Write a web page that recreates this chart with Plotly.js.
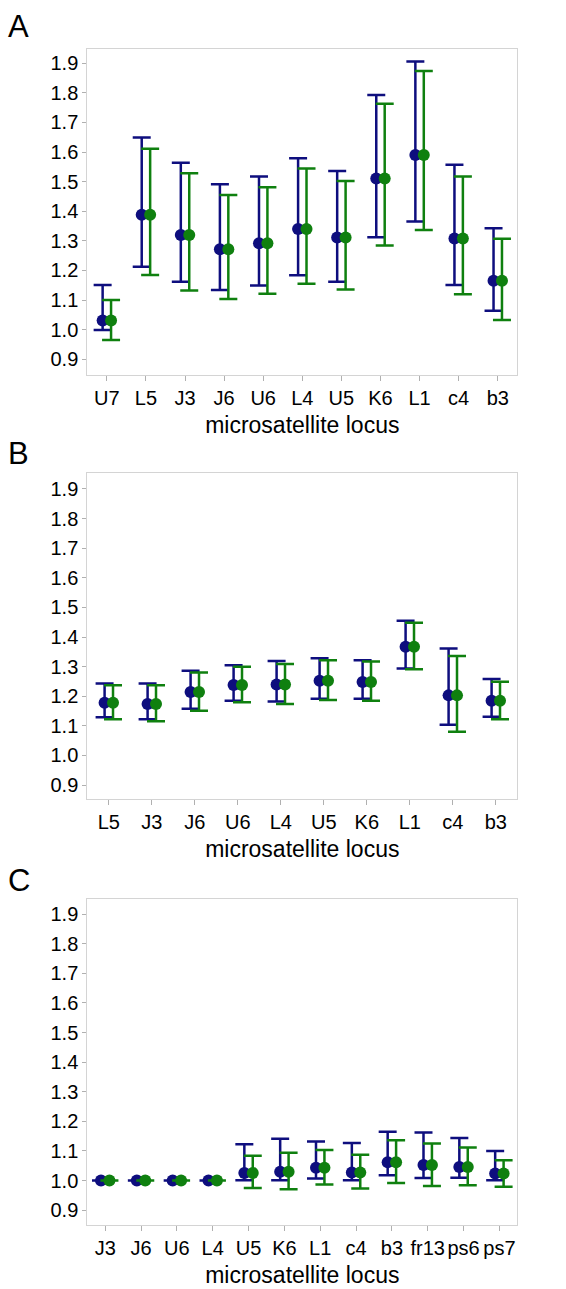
<!DOCTYPE html>
<html>
<head>
<meta charset="utf-8">
<script src="https://cdn.plot.ly/plotly-3.0.1.min.js"></script>
<style>html,body{margin:0;padding:0;background:#fff;}#chart{width:566px;height:1289px;}</style>
</head>
<body>
<div id="chart"></div>
<script>
// ---- Panel A ----
var lociA = ["U7","L5","J3","J6","U6","L4","U5","K6","L1","c4","b3"];
var blueA      = [1.031,1.388,1.320,1.272,1.292,1.340,1.311,1.511,1.590,1.308,1.165];
var blueUpA    = [1.151,1.649,1.564,1.491,1.517,1.579,1.536,1.793,1.906,1.557,1.343];
var blueLoA    = [0.999,1.213,1.162,1.134,1.149,1.184,1.162,1.312,1.365,1.151,1.064];
var greenA     = [1.031,1.388,1.320,1.272,1.292,1.340,1.311,1.511,1.590,1.308,1.165];
var greenUpA   = [1.100,1.611,1.528,1.455,1.481,1.544,1.502,1.763,1.874,1.517,1.307];
var greenLoA   = [0.965,1.185,1.132,1.104,1.121,1.155,1.136,1.284,1.337,1.120,1.033];

// ---- Panel B ----
var lociB = ["L5","J3","J6","U6","L4","U5","K6","L1","c4","b3"];
var blueB      = [1.178,1.174,1.214,1.238,1.240,1.252,1.248,1.367,1.203,1.185];
var blueUpB    = [1.243,1.243,1.286,1.305,1.319,1.328,1.322,1.455,1.361,1.258];
var blueLoB    = [1.129,1.122,1.158,1.185,1.182,1.192,1.192,1.294,1.104,1.131];
var greenB     = [1.178,1.174,1.214,1.238,1.240,1.252,1.248,1.367,1.203,1.185];
var greenUpB   = [1.237,1.237,1.280,1.300,1.309,1.322,1.317,1.448,1.336,1.249];
var greenLoB   = [1.122,1.116,1.151,1.180,1.174,1.187,1.185,1.291,1.080,1.122];

// ---- Panel C ----
var lociC = ["J3","J6","U6","L4","U5","K6","L1","c4","b3","fr13","ps6","ps7"];
var blueC      = [1.000,1.000,1.000,1.000,1.026,1.030,1.043,1.027,1.062,1.053,1.046,1.024];
var blueUpC    = [1.000,1.000,1.000,1.000,1.123,1.141,1.132,1.127,1.165,1.162,1.144,1.100];
var blueLoC    = [1.000,1.000,1.000,1.000,1.001,1.001,1.007,1.001,1.018,1.009,1.010,1.001];
var greenC     = [1.000,1.000,1.000,1.000,1.026,1.030,1.043,1.027,1.062,1.053,1.046,1.024];
var greenUpC   = [1.000,1.000,1.000,1.000,1.084,1.094,1.103,1.087,1.136,1.125,1.112,1.069];
var greenLoC   = [1.000,1.000,1.000,1.000,0.975,0.971,0.987,0.973,0.992,0.982,0.984,0.979];

var BLUE = "#0e0e7e", GREEN = "#0f800f";
var FONT = "Liberation Sans, Arial, sans-serif";

function seriesTrace(loci, vals, up, lo, color, side, xa, ya){
  var n = loci.length;
  var off = 0.0098 * n * side;  // constant ~4px visual offset between the two series
  return {
    type: "scatter", mode: "markers",
    x: loci.map(function(_, i){ return i + off; }),
    y: vals,
    xaxis: xa, yaxis: ya,
    marker: {color: color, size: 12},
    error_y: {
      type: "data", symmetric: false, visible: true,
      array: up.map(function(u, i){ return u - vals[i]; }),
      arrayminus: lo.map(function(l, i){ return vals[i] - l; }),
      color: color, thickness: 2.5, width: 9
    },
    showlegend: false, hoverinfo: "skip"
  };
}

var data = [
  seriesTrace(lociA, blueA, blueUpA, blueLoA, BLUE, -1, "x", "y"),
  seriesTrace(lociA, greenA, greenUpA, greenLoA, GREEN, 1, "x", "y"),
  seriesTrace(lociB, blueB, blueUpB, blueLoB, BLUE, -1, "x2", "y2"),
  seriesTrace(lociB, greenB, greenUpB, greenLoB, GREEN, 1, "x2", "y2"),
  seriesTrace(lociC, blueC, blueUpC, blueLoC, BLUE, -1, "x3", "y3"),
  seriesTrace(lociC, greenC, greenUpC, greenLoC, GREEN, 1, "x3", "y3")
];

var xdom = [87.3/566, 517.3/566];
function xAxis(loci, anchor){
  return {
    domain: xdom, anchor: anchor,
    range: [-0.5, loci.length - 0.5],
    tickmode: "array",
    tickvals: loci.map(function(_, i){ return i; }),
    ticktext: loci,
    showline: true, mirror: true, linecolor: "#d4d4d4", linewidth: 1,
    ticks: "outside", ticklen: 5, tickcolor: "#b0b0b0", tickwidth: 1,
    showgrid: false, zeroline: false,
    tickfont: {family: FONT, size: 20, color: "#000"},
    title: {text: "microsatellite locus", font: {family: FONT, size: 23, color: "#000"}, standoff: 8},
    automargin: false, fixedrange: true
  };
}
function yAxis(dom, rng, anchor){
  return {
    domain: dom, anchor: anchor,
    range: rng,
    tickmode: "linear", tick0: 0.9, dtick: 0.1, tickformat: ".1f",
    showline: true, mirror: true, linecolor: "#d4d4d4", linewidth: 1,
    ticks: "outside", ticklen: 4, tickcolor: "#b0b0b0", tickwidth: 1,
    showgrid: false, zeroline: false,
    tickfont: {family: FONT, size: 20, color: "#000"},
    automargin: false, fixedrange: true
  };
}

var layout = {
  width: 566, height: 1289,
  margin: {l: 0, r: 0, t: 0, b: 0},
  paper_bgcolor: "#fff", plot_bgcolor: "#fff",
  showlegend: false,
  xaxis: xAxis(lociA, "y"),
  yaxis: yAxis([1 - 375/1289, 1 - 49/1289], [0.847, 1.948], "x"),
  xaxis2: xAxis(lociB, "y2"),
  yaxis2: yAxis([1 - 799.3/1289, 1 - 473.3/1289], [0.852, 1.953], "x2"),
  xaxis3: xAxis(lociC, "y3"),
  yaxis3: yAxis([1 - 1225/1289, 1 - 899.3/1289], [0.850, 1.950], "x3"),
  annotations: [
    {text: "A", xref: "paper", yref: "paper", x: 6/566, y: 1 - 26.5/1289, xanchor: "left", yanchor: "middle", showarrow: false, font: {family: FONT, size: 31, color: "#000"}},
    {text: "B", xref: "paper", yref: "paper", x: 6/566, y: 1 - 454/1289, xanchor: "left", yanchor: "middle", showarrow: false, font: {family: FONT, size: 31, color: "#000"}},
    {text: "C", xref: "paper", yref: "paper", x: 6/566, y: 1 - 881/1289, xanchor: "left", yanchor: "middle", showarrow: false, font: {family: FONT, size: 31, color: "#000"}}
  ]
};

Plotly.newPlot("chart", data, layout, {staticPlot: true, displayModeBar: false});
</script>
</body>
</html>
